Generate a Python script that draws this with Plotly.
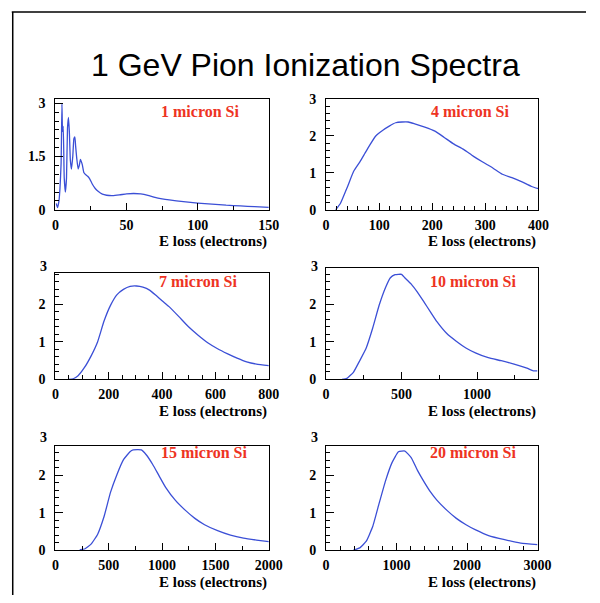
import plotly.graph_objects as go

# ---------------- data ----------------
labels = ["1 micron Si", "4 micron Si", "7 micron Si",
          "10 micron Si", "15 micron Si", "20 micron Si"]

x_1um = [0.5, 1.5, 2.5, 3.2, 4.0, 4.6, 5.0, 5.5, 6.2, 7.0, 7.8, 8.5, 9.2, 9.8,
         10.5, 11.3, 12.2, 13.0, 13.7, 14.2, 15.0, 16.0, 16.8, 17.6, 18.3, 19.0,
         20.0, 21.0, 22.5, 24.0, 26.0, 28.0, 30.0, 33.0, 36.0, 40.0, 45.0, 50.0,
         55.0, 60.0, 65.0, 70.0, 75.0, 80.0, 90.0, 100, 110, 120, 130, 140, 150]
y_1um = [0.18, 0.06, 0.25, 0.6, 1.3, 2.98, 2.2, 2.35, 0.9, 0.5, 0.9, 2.3, 2.6,
         2.2, 1.4, 1.15, 1.5, 2.0, 2.05, 1.8, 1.45, 1.15, 1.25, 1.42, 1.35, 1.25,
         1.05, 1.0, 0.95, 0.88, 0.72, 0.6, 0.52, 0.44, 0.41, 0.40, 0.42, 0.45,
         0.46, 0.45, 0.41, 0.35, 0.31, 0.28, 0.23, 0.19, 0.16, 0.13, 0.11, 0.09, 0.07]

x_4um = [18, 27, 40, 52, 64, 73, 82, 94, 107, 119, 131, 143, 155, 167, 186, 204,
         222, 240, 259, 277, 295, 314, 332, 350, 368, 387, 400]
y_4um = [0.0, 0.17, 0.61, 1.04, 1.30, 1.52, 1.74, 2.0, 2.15, 2.26, 2.35, 2.37,
         2.37, 2.32, 2.23, 2.13, 1.96, 1.78, 1.63, 1.45, 1.29, 1.13, 0.96, 0.87,
         0.76, 0.63, 0.57]

x_7um = [50, 67, 85, 109, 134, 158, 182, 207, 231, 255, 280, 304, 328, 353, 377,
         401, 426, 462, 498, 535, 571, 608, 644, 681, 717, 754, 800]
y_7um = [0.0, 0.02, 0.1, 0.32, 0.63, 1.0, 1.55, 1.98, 2.26, 2.4, 2.48, 2.49,
         2.46, 2.38, 2.24, 2.09, 1.94, 1.68, 1.41, 1.18, 0.98, 0.82, 0.69, 0.57,
         0.47, 0.41, 0.37]

x_10um = [106, 138, 181, 223, 266, 309, 351, 394, 426, 457, 500, 521, 564, 606,
          649, 691, 734, 798, 862, 926, 989, 1074, 1160, 1245, 1330, 1372, 1400]
y_10um = [0.0, 0.03, 0.19, 0.5, 0.84, 1.37, 1.97, 2.45, 2.71, 2.79, 2.8, 2.71,
          2.54, 2.32, 2.06, 1.8, 1.54, 1.23, 1.02, 0.84, 0.71, 0.58, 0.5, 0.41,
          0.3, 0.23, 0.23]

x_15um = [228, 274, 334, 395, 456, 517, 578, 638, 699, 729, 805, 851, 912, 973,
          1033, 1125, 1216, 1307, 1398, 1520, 1641, 1763, 1884, 2000]
y_15um = [0.01, 0.03, 0.16, 0.42, 0.9, 1.55, 2.03, 2.42, 2.63, 2.68, 2.68, 2.55,
          2.29, 1.98, 1.68, 1.33, 1.07, 0.85, 0.68, 0.52, 0.4, 0.32, 0.27, 0.23]

x_20um = [388, 479, 571, 662, 753, 845, 936, 1027, 1119, 1210, 1301, 1393, 1484,
          1575, 1712, 1849, 1986, 2123, 2306, 2534, 2763, 3000]
y_20um = [0.0, 0.06, 0.24, 0.63, 1.25, 1.86, 2.34, 2.63, 2.65, 2.47, 2.12, 1.82,
          1.55, 1.33, 1.07, 0.85, 0.68, 0.54, 0.39, 0.28, 0.19, 0.15]

xs = [x_1um, x_4um, x_7um, x_10um, x_15um, x_20um]
ys = [y_1um, y_4um, y_7um, y_10um, y_15um, y_20um]

x_ranges = [[0, 150], [0, 400], [0, 800], [0, 1400], [0, 2000], [0, 3000]]
y_ranges = [[0, 3.13], [0, 3.0], [0, 2.83], [0, 2.96], [0, 2.79], [0, 2.79]]
x_dticks = [50, 100, 200, 500, 500, 1000]
x_minor = [25, 20, 50, 250, 250, 200]
y_tickvals = [[0, 1.5, 3], [0, 1, 2, 3], [0, 1, 2, 3], [0, 1, 2, 3],
              [0, 1, 2, 3], [0, 1, 2, 3]]
y_ticktext = [["0", "1.5", "3"]] + [["0", "1", "2", "3"]] * 5
y_minor = [0.25, 0.2, 0.2, 0.2, 0.2, 0.2]

title = "1 GeV Pion Ionization Spectra"
xlabel = "E loss (electrons)"

# ---------------- layout geometry (pixels) ----------------
W, H = 600, 603
boxes = [  # left, right, top, bottom in px
    (53, 273, 94, 208), (332, 551, 94, 208),
    (53, 273, 273, 382), (332, 550, 268, 382),
    (53, 273, 450, 557), (332, 550, 450, 557),
]
label_pos = [(202, 107), (480, 107), (200, 282), (484, 282), (206, 457), (484, 457)]

CURVE = "#3b4fd6"
RED = "#ee3322"
TICKFONT = dict(family="Liberation Serif", size=14, color="black", weight="bold")

fig = go.Figure()
layout = {}
annotations = []
for i in range(6):
    n = "" if i == 0 else str(i + 1)
    l, r, t, b = boxes[i]
    fig.add_trace(go.Scatter(x=xs[i], y=ys[i], mode="lines",
                             line=dict(color=CURVE, width=1.3, shape="spline", smoothing=0.4),
                             xaxis="x" + n, yaxis="y" + n, showlegend=False,
                             hoverinfo="skip"))
    layout["xaxis" + n] = dict(
        domain=[l / W, r / W], range=x_ranges[i], anchor="y" + n,
        showgrid=False, zeroline=False, showline=True, linecolor="black",
        linewidth=1, mirror=True, ticks="inside", ticklen=7, tickcolor="black",
        dtick=x_dticks[i], tick0=0, tickfont=TICKFONT, ticklabelstandoff=2,
        minor=dict(dtick=x_minor[i], tick0=0, ticks="inside", ticklen=4,
                   tickcolor="black", showgrid=False),
        fixedrange=True)
    layout["yaxis" + n] = dict(
        domain=[1 - b / H, 1 - t / H], range=y_ranges[i], anchor="x" + n,
        showgrid=False, zeroline=False, showline=True, linecolor="black",
        linewidth=1, mirror=True, ticks="inside", ticklen=8, tickcolor="black",
        tickvals=y_tickvals[i], ticktext=y_ticktext[i], tickfont=TICKFONT,
        ticklabelstandoff=6,
        minor=dict(dtick=y_minor[i], tick0=0, ticks="inside", ticklen=4,
                   tickcolor="black", showgrid=False),
        fixedrange=True)
    # x axis title, right aligned under the axis
    annotations.append(dict(text=xlabel, xref="x" + n + " domain", x=1.0,
                            yref="y" + n + " domain", y=0, yshift=-32,
                            xanchor="right", yanchor="middle", showarrow=False,
                            font=dict(family="Liberation Serif", size=15,
                                      color="black", weight="bold")))
    # panel label
    lx, ly = label_pos[i]
    annotations.append(dict(text=labels[i], xref="paper", yref="paper",
                            x=lx / W, y=1 - ly / H, xanchor="center",
                            yanchor="middle", showarrow=False,
                            font=dict(family="Liberation Serif", size=16,
                                      color=RED, weight="bold")))
    # top tick label "3" when the axis stops just below 3
    top = y_ranges[i][1]
    if top < 3:
        shift = (3 - top) * (b - t) / top
        annotations.append(dict(text="3", xref="x" + n + " domain", x=0,
                                xshift=-6, yref="y" + n + " domain", y=1,
                                yshift=shift, xanchor="right", yanchor="middle",
                                showarrow=False, font=TICKFONT))

annotations.append(dict(text=title, xref="paper", yref="paper", x=311 / W,
                        y=1 - 59 / H, xanchor="center", yanchor="middle",
                        showarrow=False,
                        font=dict(family="Liberation Sans", size=32, color="black")))

shapes = [
    dict(type="line", xref="paper", yref="paper", x0=8 / W, x1=1.0,
         y0=1 - 5 / H, y1=1 - 5 / H, line=dict(color="black", width=1.5)),
    dict(type="line", xref="paper", yref="paper", x0=9 / W, x1=9 / W,
         y0=1 - 5 / H, y1=0, line=dict(color="black", width=1.5)),
]

fig.update_layout(autosize=True, margin=dict(l=0, r=0, t=0, b=0),
                  paper_bgcolor="white", plot_bgcolor="white",
                  annotations=annotations, shapes=shapes, **layout)
post = ("document.body.style.margin='0';document.body.style.overflow='hidden';")
fig.write_html("out.html", config={"displayModeBar": False, "responsive": True},
               default_width="600px;position:fixed;left:0px;top:0px;margin:0px",
               default_height="603px", post_script=post)
